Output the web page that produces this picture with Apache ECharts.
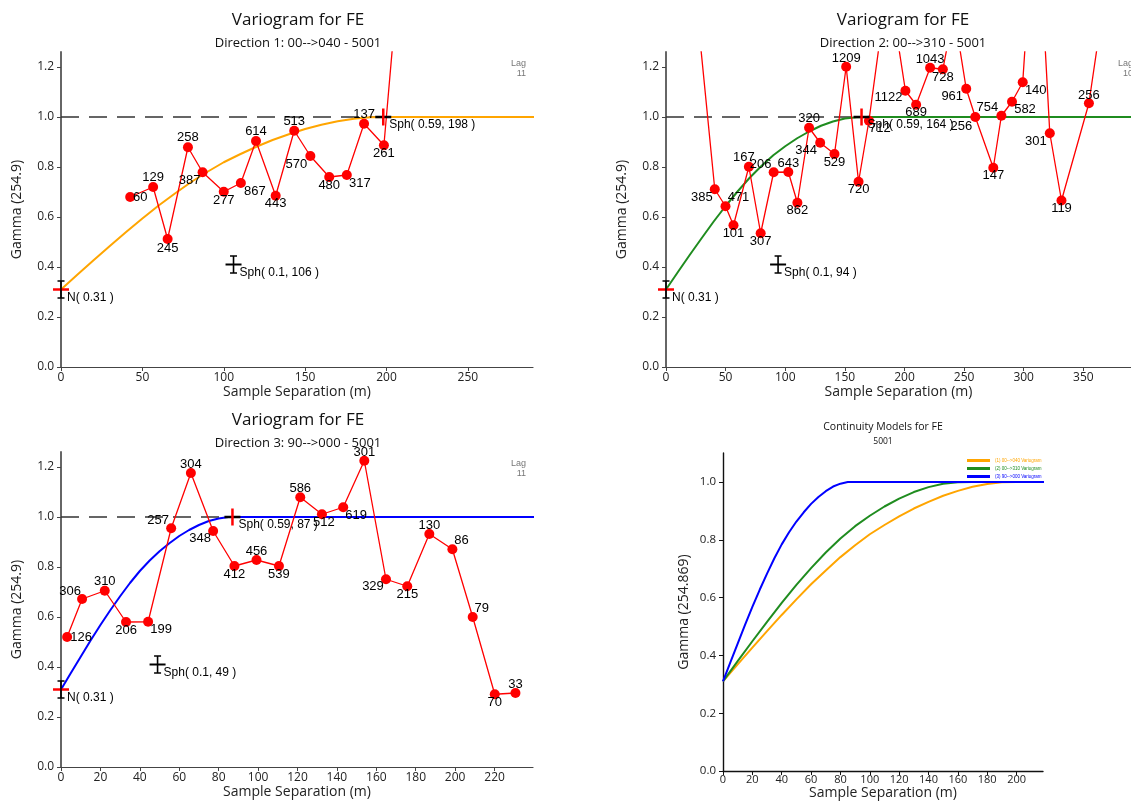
<!DOCTYPE html>
<html><head><meta charset="utf-8">
<script src="https://cdn.jsdelivr.net/npm/echarts@6/dist/echarts.min.js"></script>
<style>html,body{margin:0;padding:0;background:#fff}#c{width:1131px;height:801px}</style>
</head><body><div id="c"></div>
<script>
// ---------------- DATA ----------------
// Direction 1 experimental variogram (lag distance, gamma, pair count)
const dir1X = [42.5, 56.6, 65.5, 78.0, 87.0, 100.0, 110.5, 119.8, 131.9, 143.3, 153.2, 164.8, 175.6, 186.2, 198.4, 209.0];
const dir1Y = [0.68, 0.72, 0.512, 0.879, 0.779, 0.701, 0.736, 0.904, 0.685, 0.945, 0.844, 0.76, 0.768, 0.973, 0.887, 1.68];
const dir1Pairs = [60, 129, 245, 258, 387, 277, 867, 614, 443, 513, 570, 480, 317, 137, 261, null];
// Direction 2
const dir2X = [25, 40.9, 49.9, 56.6, 69.5, 79.4, 90.3, 102.6, 110.2, 120.0, 129.3, 141.3, 151.1, 161.5, 170.2, 180, 190, 200.8, 209.8, 221.5, 232.2, 241.5, 251.8, 259.4, 274.5, 281.3, 290.2, 299.2, 310.4, 321.9, 331.7, 354.7, 365];
const dir2Y = [1.48, 0.711, 0.643, 0.567, 0.801, 0.535, 0.779, 0.78, 0.657, 0.957, 0.897, 0.852, 1.201, 0.741, 0.985, 1.33, 1.44, 1.105, 1.049, 1.197, 1.191, 1.42, 1.113, 1.0, 0.797, 1.005, 1.061, 1.139, 1.95, 0.935, 0.666, 1.055, 1.39];
const dir2Pairs = [null, 385, 471, 101, 167, 307, 206, 643, 862, 320, 344, 529, 1209, 720, 712, null, null, 1122, 689, 1043, 728, null, 961, 256, 147, 754, 582, 140, null, 301, 119, 256, null];
// Direction 3
const dir3X = [3.1, 10.7, 22.2, 33.0, 44.2, 55.9, 65.9, 77.2, 88.0, 99.2, 110.6, 121.4, 132.4, 143.2, 153.9, 164.9, 175.7, 186.9, 198.6, 208.9, 220.1, 230.6];
const dir3Y = [0.52, 0.672, 0.705, 0.58, 0.581, 0.955, 1.176, 0.944, 0.804, 0.828, 0.804, 1.079, 1.011, 1.039, 1.225, 0.751, 0.723, 0.932, 0.871, 0.60, 0.291, 0.296];
const dir3Pairs = [126, 306, 310, 206, 199, 257, 304, 348, 412, 456, 539, 586, 512, 619, 301, 329, 215, 130, 86, 79, 70, 33];

// Model curves (distance, gamma)
const dir1ModelX = [0, 10, 20, 30, 40, 50, 60, 70, 80, 90, 100, 110, 120, 130, 140, 150, 160, 170, 180, 190, 200, 400];
const dir1ModelY = [0.310, 0.369, 0.427, 0.484, 0.540, 0.594, 0.646, 0.694, 0.740, 0.781, 0.819, 0.851, 0.881, 0.908, 0.931, 0.952, 0.969, 0.983, 0.993, 0.999, 1.000, 1.000];
const dir2ModelX = [0, 10, 20, 30, 40, 50, 60, 70, 80, 90, 100, 110, 120, 130, 140, 150, 160, 170, 400];
const dir2ModelY = [0.310, 0.380, 0.449, 0.516, 0.582, 0.644, 0.702, 0.756, 0.804, 0.847, 0.883, 0.915, 0.942, 0.965, 0.982, 0.994, 0.999, 1.000, 1.000];
const dir3ModelX = [0, 5, 10, 15, 20, 25, 30, 35, 40, 45, 50, 55, 60, 65, 70, 75, 80, 85, 90, 400];
const dir3ModelY = [0.310, 0.376, 0.441, 0.506, 0.568, 0.627, 0.683, 0.736, 0.784, 0.826, 0.863, 0.895, 0.924, 0.948, 0.968, 0.984, 0.994, 1.000, 1.000, 1.000];

// Model parameters: nugget, [contribution, range] per structure
const dir1Nugget = 0.31, dir1Structs = [[0.1, 106], [0.59, 198]];
const dir2Nugget = 0.31, dir2Structs = [[0.1, 94], [0.59, 164]];
const dir3Nugget = 0.31, dir3Structs = [[0.1, 49], [0.59, 87]];

// Text
const panelTitles = ['Variogram for FE', 'Variogram for FE', 'Variogram for FE', 'Continuity Models for FE'];
const panelSubtitles = ['Direction 1: 00-->040 - 5001', 'Direction 2: 00-->310 - 5001', 'Direction 3: 90-->000 - 5001', '5001'];
const legendNames = ['(1) 00-->040 Variogram', '(2) 00-->310 Variogram', '(3) 90-->000 Variogram'];
const lagLabels = ['11', '10', '11'];
const xName = 'Sample Separation (m)';
const yNames = ['Gamma (254.9)', 'Gamma (254.9)', 'Gamma (254.9)', 'Gamma (254.869)'];

// Tick values
const xTicks1 = [0, 50, 100, 150, 200, 250];
const xTicks2 = [0, 50, 100, 150, 200, 250, 300, 350];
const xTicks3 = [0, 20, 40, 60, 80, 100, 120, 140, 160, 180, 200, 220];
const xTicks4 = [0, 20, 40, 60, 80, 100, 120, 140, 160, 180, 200];
const yTicks = [0, 0.2, 0.4, 0.6, 0.8, 1.0, 1.2];
const yTicks4 = [0, 0.2, 0.4, 0.6, 0.8, 1.0];

// ---------------- STYLE / LAYOUT ----------------
const dir1LabelOff = [[10,0],[0,-10],[0,9],[0,-10],[-13,8],[0,9],[14,8],[0,-10],[0,8],[0,-9],[-14,8],[0,8],[13,8],[0,-9],[0,8],[0,0]];
const dir2LabelOff = [[0,0],[-13,8],[13,-9],[0,8],[-5,-9],[0,8],[-13,-8],[0,-9],[0,8],[0,-9],[-14,8],[0,8],[0,-8],[0,8],[11,8],[0,0],[0,0],[-17,7],[0,8],[0,-8],[0,8],[0,0],[-14,8],[-14,9],[0,8],[-14,-8],[13,8],[13,8],[0,0],[-14,8],[0,8],[0,-8],[0,0]];
const dir3LabelOff = [[14,0],[-12,-8],[0,-9],[0,8],[13,8],[-13,-8],[0,-9],[-13,7],[0,8],[0,-9],[0,8],[0,-9],[2,8],[13,8],[0,-8],[-13,7],[0,8],[0,-9],[9,-9],[9,-9],[0,8],[0,-9]];

const RED = '#ff0000', ORANGE = '#ffa500', GREEN = '#1f8c1f', BLUE = '#0000ff';
const UI_FONT = '"Open Sans", "DejaVu Sans", sans-serif';
const LBL_FONT = '"Liberation Sans", Arial, sans-serif';

const layout = [
  { left: 61, top: 52, width: 472, height: 315, xMax: 290, yMax: 1.26, xTicks: xTicks1, yTicks: yTicks },
  { left: 666, top: 52, width: 474, height: 315, xMax: 390, yMax: 1.26, xTicks: xTicks2, yTicks: yTicks },
  { left: 61, top: 452, width: 472, height: 315, xMax: 239.5, yMax: 1.26, xTicks: xTicks3, yTicks: yTicks },
  { left: 723, top: 453, width: 320, height: 319, xMax: 218, yMax: 1.1, xTicks: xTicks4, yTicks: yTicks4 }
];

const grids = layout.map(l => ({ left: l.left, top: l.top, width: l.width, height: l.height, containLabel: false }));

const xAxes = layout.map((l, i) => {
  const p4 = i === 3;
  return {
    type: 'value', gridIndex: i, min: 0, max: l.xMax, interval: 10,
    axisLine: { show: true, onZero: false, lineStyle: { color: p4 ? '#111' : '#444', width: p4 ? 1.4 : 1.2 } },
    axisTick: { show: true, length: 4, customValues: l.xTicks, lineStyle: { color: p4 ? '#111' : '#444' } },
    axisLabel: { customValues: l.xTicks, showMaxLabel: true, fontSize: p4 ? 11 : 12, color: '#222', fontFamily: UI_FONT, margin: p4 ? 3 : 5 },
    splitLine: { show: false },
    name: xName, nameLocation: 'middle', nameGap: p4 ? 13 : 18,
    nameTextStyle: { fontSize: 14, color: '#222', fontFamily: UI_FONT }
  };
});
const yAxes = layout.map((l, i) => {
  const p4 = i === 3;
  return {
    type: 'value', gridIndex: i, min: 0, max: l.yMax, interval: 0.1,
    axisLine: { show: true, onZero: false, lineStyle: { color: p4 ? '#111' : '#666', width: p4 ? 1.4 : 2 } },
    axisTick: { show: true, length: 4, customValues: l.yTicks, lineStyle: { color: p4 ? '#111' : '#444' } },
    axisLabel: { customValues: l.yTicks, formatter: v => v.toFixed(1), fontSize: p4 ? 11.5 : 12, color: '#222', fontFamily: UI_FONT, margin: 7 },
    splitLine: { show: false },
    name: yNames[i], nameLocation: 'middle', nameGap: p4 ? 32 : 37,
    nameTextStyle: { fontSize: 14, color: '#222', fontFamily: UI_FONT }
  };
});

function zip(xs, ys) { return xs.map((x, i) => [x, ys[i]]); }

function panelSeries(k, xs, ys, pairs, offs, mX, mY, color, nugget, structs) {
  const sill = nugget + structs[0][0] + structs[1][0];
  const out = [];
  out.push({
    type: 'line', name: 'sill' + k, xAxisIndex: k, yAxisIndex: k, z: 1, silent: true,
    data: [[0, sill], [layout[k].xMax, sill]], showSymbol: false, symbol: 'none',
    lineStyle: { color: '#333', width: 1.5, type: [18, 10] }
  });
  out.push({
    type: 'line', name: 'model' + k, xAxisIndex: k, yAxisIndex: k, z: 2, silent: true, clip: true,
    data: zip(mX, mY), showSymbol: false, symbol: 'none',
    lineStyle: { color: color, width: 2 }
  });
  out.push({
    type: 'line', name: 'exp' + k, xAxisIndex: k, yAxisIndex: k, z: 3, silent: true, clip: true,
    data: xs.map((x, i) => ({ value: [x, ys[i]], label: { offset: offs[i] } })),
    symbol: 'circle', symbolSize: 10, showAllSymbol: true,
    itemStyle: { color: RED },
    lineStyle: { color: RED, width: 1.3 },
    label: {
      show: true, position: 'inside', color: '#000', fontSize: 13, fontFamily: LBL_FONT,
      formatter: p => (pairs[p.dataIndex] == null ? '' : String(pairs[p.dataIndex]))
    }
  });
  const mk = [
    [0, nugget, 0, 'N( ' + nugget + ' )'],
    [structs[0][1], nugget + structs[0][0], 1, 'Sph( ' + structs[0][0] + ', ' + structs[0][1] + ' )'],
    [structs[1][1], sill, 2, 'Sph( ' + structs[1][0] + ', ' + structs[1][1] + ' )']
  ];
  out.push({
    type: 'custom', name: 'mk' + k, xAxisIndex: k, yAxisIndex: k, z: 5, silent: true, clip: false,
    data: mk.map(m => [m[0], m[1], m[2]]),
    renderItem: (params, api) => {
      const p = api.coord([api.value(0), api.value(1)]);
      const kind = api.value(2);
      const txt = mk[params.dataIndex][3];
      const hC = kind === 0 ? RED : '#000';
      const vC = kind === 2 ? RED : '#000';
      const ch = [
        { type: 'line', shape: { x1: p[0] - 8, y1: p[1], x2: p[0] + 8, y2: p[1] }, style: { stroke: hC, lineWidth: kind === 1 ? 2 : 2.5 } },
        { type: 'line', shape: { x1: p[0], y1: p[1] - 8.5, x2: p[0], y2: p[1] + 8.5 }, style: { stroke: vC, lineWidth: kind === 2 ? 2.5 : 1.6 } }
      ];
      if (kind !== 2) {
        ch.push({ type: 'line', shape: { x1: p[0] - 3.5, y1: p[1] - 8.5, x2: p[0] + 3.5, y2: p[1] - 8.5 }, style: { stroke: '#000', lineWidth: 1.5 } });
        ch.push({ type: 'line', shape: { x1: p[0] - 3.5, y1: p[1] + 8.5, x2: p[0] + 3.5, y2: p[1] + 8.5 }, style: { stroke: '#000', lineWidth: 1.5 } });
      }
      ch.push({ type: 'text', x: p[0] + 6, y: p[1] + 8, style: { text: txt, fill: '#000', font: '12px ' + LBL_FONT, textAlign: 'left', textVerticalAlign: 'middle', align: 'left', verticalAlign: 'middle' } });
      return { type: 'group', children: ch };
    }
  });
  return out;
}

const series = [].concat(
  panelSeries(0, dir1X, dir1Y, dir1Pairs, dir1LabelOff, dir1ModelX, dir1ModelY, ORANGE, dir1Nugget, dir1Structs),
  panelSeries(1, dir2X, dir2Y, dir2Pairs, dir2LabelOff, dir2ModelX, dir2ModelY, GREEN, dir2Nugget, dir2Structs),
  panelSeries(2, dir3X, dir3Y, dir3Pairs, dir3LabelOff, dir3ModelX, dir3ModelY, BLUE, dir3Nugget, dir3Structs)
);
const modelSets = [[dir1ModelX, dir1ModelY, ORANGE], [dir2ModelX, dir2ModelY, GREEN], [dir3ModelX, dir3ModelY, BLUE]];
modelSets.forEach((m, i) => {
  series.push({
    type: 'line', name: legendNames[i], xAxisIndex: 3, yAxisIndex: 3, z: 2 + i, silent: true, clip: true,
    data: zip(m[0], m[1]), showSymbol: false, symbol: 'none',
    itemStyle: { color: m[2] }, lineStyle: { color: m[2], width: 2 }
  });
});

// Titles and small texts
function txt(x, y, text, font, fill, align) {
  return { type: 'text', x: x, y: y, silent: true, z: 10,
    style: { text: text, font: font, fill: fill, textAlign: align || 'center', textVerticalAlign: 'middle', align: align || 'center', verticalAlign: 'middle' } };
}
const graphics = [];
const titleCenters = [[298, 20, 43], [903, 20, 43], [298, 420, 443], [883, 427, 442]];
titleCenters.forEach((c, i) => {
  const p4 = i === 3;
  graphics.push(txt(c[0], c[1], panelTitles[i], (p4 ? '10.5px ' : '17px ') + UI_FONT, '#111'));
  graphics.push(txt(c[0], c[2], panelSubtitles[i], (p4 ? '8.5px ' : '13px ') + UI_FONT, '#111'));
});
const lagPos = [[526, 64, 74], [1133, 64, 74], [526, 464, 474]];
lagPos.forEach((p, i) => {
  graphics.push(txt(p[0], p[1], 'Lag', '9px ' + LBL_FONT, '#777', 'right'));
  graphics.push(txt(p[0], p[2], lagLabels[i], '9px ' + LBL_FONT, '#777', 'right'));
});

const option = {
  animation: false,
  backgroundColor: '#fff',
  grid: grids,
  xAxis: xAxes,
  yAxis: yAxes,
  legend: {
    orient: 'vertical', left: 967, top: 458, itemWidth: 23, itemHeight: 3, itemGap: 3,
    icon: 'rect', selectedMode: false, padding: 0,
    data: [
      { name: legendNames[0], textStyle: { color: ORANGE } },
      { name: legendNames[1], textStyle: { color: GREEN } },
      { name: legendNames[2], textStyle: { color: BLUE } }
    ],
    textStyle: { fontSize: 4.5, fontFamily: LBL_FONT }
  },
  graphic: graphics,
  series: series
};

const chart = echarts.init(document.getElementById('c'), null, { renderer: 'canvas' });
chart.setOption(option);
</script></body></html>
